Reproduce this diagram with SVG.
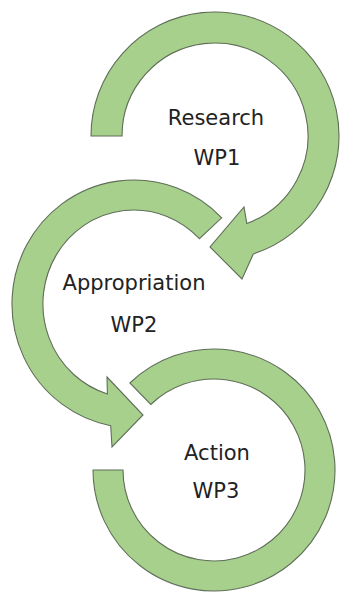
<svg xmlns="http://www.w3.org/2000/svg" width="341" height="592" viewBox="0 0 341 592">
  <style>
    .arc { fill: #a7d08d; stroke: #5f6e58; stroke-width: 1.1; stroke-linejoin: miter; }
    .lbl { font-family: "DejaVu Sans", "Liberation Sans", sans-serif; font-size: 21px; fill: #222222; text-anchor: middle; }
  </style>
  <rect x="0" y="0" width="341" height="592" fill="#ffffff"/>
  <g id="connectors"></g>
  <g id="node-research">
    <path class="arc" d="M 91,136 A 124 124 0 1 1 253.3,253.9 L 242,279 L 210,247 L 244,207 L 246.8,223.4 A 93 93 0 1 0 122,136 Z"/>
    <text class="lbl" x="216" y="125">Research</text>
    <text class="lbl" x="217" y="165">WP1</text>
  </g>
  <g id="node-appropriation">
    <path class="arc" d="M 221.7,217.8 A 122 124 0 1 0 110.7,425.7 L 112,447 L 143,415 L 107,377 L 107.4,393.9 A 91 94 0 1 1 199.4,238.7 Z"/>
    <text class="lbl" x="134" y="290">Appropriation</text>
    <text class="lbl" x="134" y="332">WP2</text>
  </g>
  <g id="node-action">
    <path class="arc" d="M 93,470 A 121 121 0 1 0 129.9,383 L 150.8,404.5 A 91 91 0 1 1 123,470 Z"/>
    <text class="lbl" x="217" y="460">Action</text>
    <text class="lbl" x="216" y="498">WP3</text>
  </g>
</svg>
